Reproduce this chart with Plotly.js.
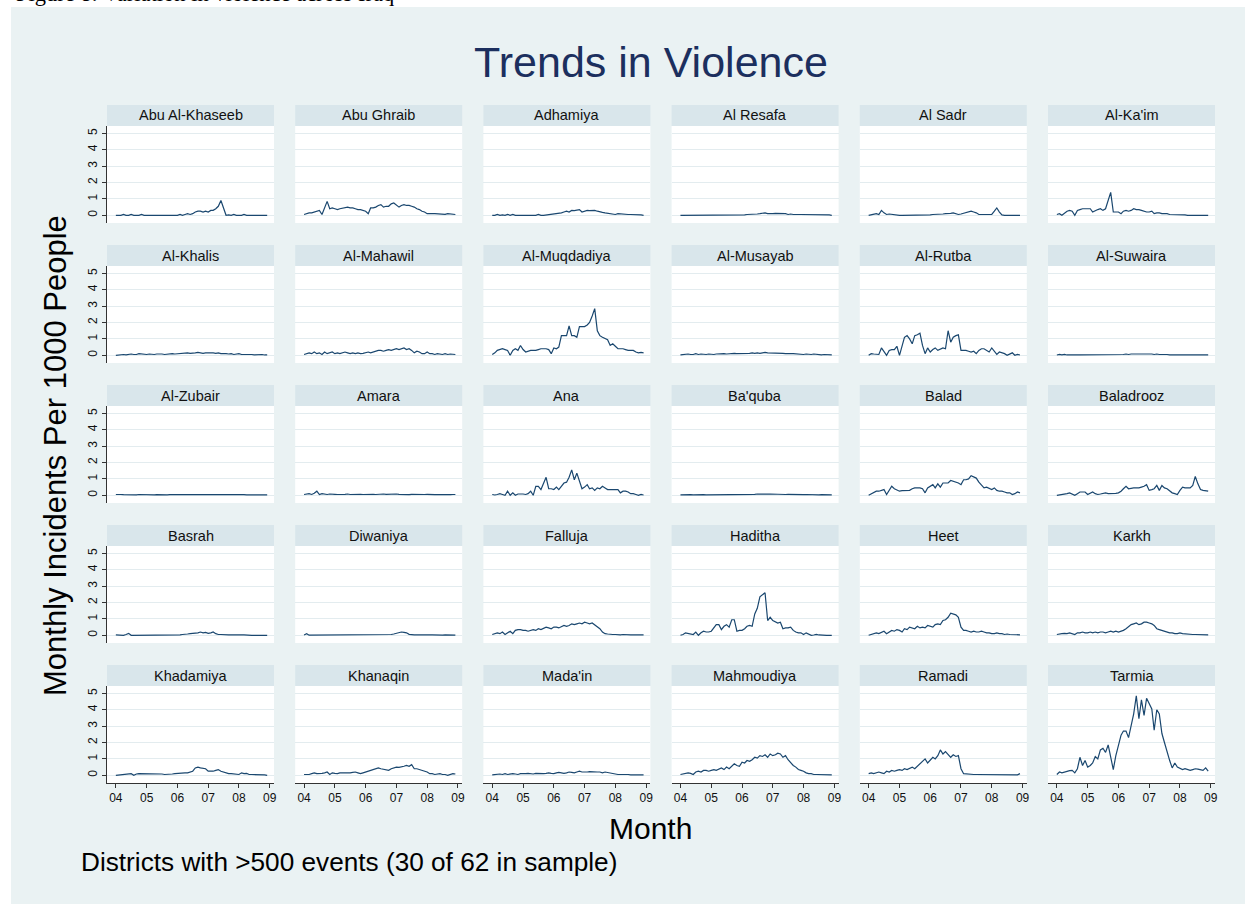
<!DOCTYPE html>
<html><head><meta charset="utf-8">
<script src="https://cdn.plot.ly/plotly-3.0.1.min.js"></script>
<style>html,body{margin:0;padding:0;background:#fff}#chart{width:1256px;height:914px}</style>
</head><body><div id="chart"></div>
<script>
const districts = ["Abu Al-Khaseeb","Abu Ghraib","Adhamiya","Al Resafa","Al Sadr","Al-Ka'im",
  "Al-Khalis","Al-Mahawil","Al-Muqdadiya","Al-Musayab","Al-Rutba","Al-Suwaira",
  "Al-Zubair","Amara","Ana","Ba'quba","Balad","Baladrooz",
  "Basrah","Diwaniya","Falluja","Haditha","Heet","Karkh",
  "Khadamiya","Khanaqin","Mada'in","Mahmoudiya","Ramadi","Tarmia"];

const abuAlKhaseeb = [0,0,0,0.05,0,0,0.05,0,0,0, 0.05,0,0,0,0,0,0,0,0,0, 0,0,0,0,0,0.05,0,0.05,0.1,0.05, 0.1,0.2,0.25,0.25,0.2,0.25,0.2,0.3,0.3,0.4, 0.55,0.9,0.45,0,0.02,0,0.05,0,0,0, 0.05,0,0,0,0,0,0,0,0,0];
const abuGhraib = [0.05,0.1,0.15,0.15,0.2,0.25,0.3,0.05,0.45,0.85, 0.4,0.45,0.4,0.35,0.4,0.45,0.45,0.5,0.45,0.45, 0.4,0.35,0.35,0.3,0.25,0.1,0.45,0.45,0.5,0.6, 0.65,0.5,0.55,0.55,0.7,0.75,0.65,0.5,0.6,0.65, 0.6,0.6,0.55,0.5,0.4,0.35,0.25,0.2,0.1,0.12, 0.1,0.1,0.08,0.08,0.05,0.06,0.1,0.08,0.1,0.05];
const adhamiya = [0,0,0.05,0,0.03,0,0.05,0,0.05,0, 0,0,0,0,0,0.03,0,0,0.05,0, 0,0.02,0.05,0.05,0.1,0.1,0.12,0.15,0.2,0.25, 0.2,0.3,0.28,0.3,0.35,0.2,0.25,0.3,0.28,0.28, 0.3,0.25,0.2,0.18,0.15,0.12,0.1,0.08,0.05,0.1, 0.08,0.08,0.05,0.05,0.05,0.05,0.05,0.03,0.02,0];
const alResafa = [0,0,0,0,0,0.03,0,0,0,0.03, 0,0,0,0,0,0,0,0,0,0, 0,0,0,0,0.03,0.03,0.05,0.05,0.05,0.08, 0.08,0.1,0.12,0.15,0.1,0.08,0.1,0.12,0.12,0.1, 0.08,0.1,0.05,0.08,0.05,0.03,0.05,0.05,0.05,0.05, 0.05,0.05,0.05,0.05,0.03,0.05,0.03,0.03,0.02,0];
const alSadr = [0,0.03,0.08,0.1,0.05,0.3,0.15,0.05,0.08,0.05, 0.05,0,0,0,0,0,0,0,0,0, 0,0,0,0,0.03,0.05,0.05,0.05,0.05,0.08, 0.1,0.1,0.12,0.15,0.12,0.05,0.08,0.12,0.15,0.2, 0.25,0.2,0.15,0.05,0.05,0.05,0.05,0.05,0.05,0.25, 0.45,0.2,0.02,0,0,0,0,0,0,0];
const alKaim = [0.05,0.1,0,0.15,0.25,0.3,0.25,0,0.3,0.35, 0.4,0.4,0.4,0.4,0.2,0.3,0.35,0.4,0.3,0.4, 0.9,1.4,0.2,0.2,0.2,0.1,0.25,0.3,0.25,0.3, 0.4,0.35,0.35,0.3,0.25,0.2,0.2,0.25,0.1,0.15, 0.15,0.1,0.1,0.1,0.05,0.05,0.05,0.03,0.05,0.02, 0.02,0,0,0,0,0,0,0,0,0];
const alKhalis = [0,0.02,0.05,0.05,0.03,0.05,0.08,0.05,0.05,0.1, 0.08,0.05,0.05,0.08,0.05,0.05,0.08,0.1,0.08,0.05, 0.08,0.1,0.1,0.08,0.1,0.12,0.1,0.12,0.15,0.12, 0.12,0.15,0.18,0.15,0.12,0.15,0.15,0.18,0.15,0.12, 0.15,0.1,0.12,0.1,0.08,0.1,0.05,0.08,0.1,0.05, 0.05,0.08,0.05,0.05,0.03,0.05,0.03,0.05,0.02,0.02];
const alMahawil = [0.05,0.1,0.15,0.1,0.2,0.1,0.15,0.05,0.2,0.1, 0.15,0.2,0.1,0.15,0.1,0.15,0.2,0.15,0.1,0.15, 0.1,0.15,0.1,0.12,0.15,0.2,0.15,0.2,0.25,0.3, 0.3,0.25,0.3,0.35,0.3,0.35,0.4,0.35,0.4,0.45, 0.35,0.4,0.3,0.15,0.25,0.2,0.1,0.1,0.2,0.1, 0.1,0.05,0.1,0.08,0.05,0.1,0.05,0.08,0.05,0.05];
const alMuqdadiya = [0.05,0.15,0.3,0.35,0.4,0.35,0.3,0,0.3,0.4, 0.3,0.6,0.35,0.2,0.25,0.3,0.3,0.3,0.35,0.4, 0.4,0.4,0.35,0.1,0.45,0.4,0.5,1.2,1.2,1.2, 1.8,1.2,1.2,1.1,1.75,1.75,1.75,1.85,2.0,2.4, 2.85,1.5,1.2,1.1,1.0,0.95,0.6,0.7,0.55,0.4, 0.4,0.4,0.35,0.3,0.3,0.3,0.2,0.15,0.18,0.15];
const alMusayab = [0.02,0.05,0.05,0.08,0.05,0.05,0.1,0.05,0.08,0.05, 0.05,0.08,0.05,0.05,0.08,0.1,0.08,0.1,0.08,0.1, 0.1,0.12,0.1,0.1,0.1,0.12,0.1,0.12,0.15,0.12, 0.15,0.12,0.15,0.18,0.15,0.15,0.12,0.15,0.15,0.12, 0.12,0.1,0.12,0.1,0.1,0.08,0.1,0.08,0.05,0.08, 0.05,0.05,0.08,0.05,0.05,0.03,0.05,0.03,0.02,0.02];
const alRutba = [0,0.1,0.08,0.05,0.05,0.45,0.25,0,0.3,0.35, 0.35,0.55,0,0.6,1.1,1.2,1.0,0.7,1.2,1.25, 1.35,0.6,0.1,0.45,0.2,0.35,0.45,0.3,0.4,0.45, 0.4,1.5,0.8,1.1,1.2,1.25,0.3,0.3,0.3,0.25, 0.2,0.25,0.1,0.3,0.4,0.4,0.3,0.2,0.45,0.25, 0.05,0.2,0.15,0.1,0,0.1,0.15,0,0.05,0.02];
const alSuwaira = [0.02,0.05,0.03,0.05,0.02,0.03,0.05,0.02,0.03,0.02, 0.02,0.03,0.02,0.02,0.03,0.02,0.02,0.03,0.02,0.03, 0.03,0.02,0.03,0.05,0.03,0.05,0.05,0.08,0.05,0.08, 0.08,0.1,0.08,0.1,0.12,0.08,0.1,0.08,0.05,0.08, 0.05,0.05,0.08,0.05,0.03,0.05,0.03,0.03,0.05,0.03, 0.03,0.02,0.03,0.02,0.02,0.02,0.03,0.02,0.02,0.02];
const alZubair = [0.05,0.03,0.05,0.04,0.03,0.05,0.03,0.04,0.03,0.05, 0.04,0.03,0.03,0.04,0.03,0.03,0.04,0.03,0.03,0.04, 0.03,0.04,0.04,0.05,0.04,0.05,0.05,0.06,0.05,0.06, 0.07,0.06,0.08,0.07,0.06,0.08,0.06,0.05,0.06,0.05, 0.05,0.06,0.04,0.05,0.04,0.05,0.04,0.04,0.05,0.04, 0.04,0.03,0.04,0.03,0.04,0.03,0.03,0.04,0.03,0.03];
const amara = [0.05,0.06,0.1,0.05,0.12,0.25,0.04,0.1,0.06,0.05, 0.08,0.05,0.06,0.05,0.07,0.05,0.06,0.08,0.05,0.06, 0.05,0.07,0.06,0.05,0.06,0.05,0.07,0.06,0.05,0.07, 0.06,0.08,0.06,0.07,0.05,0.06,0.08,0.06,0.05,0.06, 0.05,0.04,0.06,0.05,0.04,0.05,0.04,0.05,0.06,0.04, 0.05,0.04,0.05,0.04,0.05,0.04,0.05,0.04,0.05,0.05];
const ana = [0.05,0.02,0.05,0.1,0.05,0,0.25,0,0.15,0, 0.08,0.1,0.08,0.05,0.1,0.25,0,0.55,0.55,0.35, 0.7,1.1,0.4,0.4,0.35,0.5,0.35,0.55,0.75,0.8, 1.1,1.55,0.95,1.35,0.9,0.4,0.5,0.65,0.4,0.45, 0.3,0.45,0.4,0.55,0.45,0.35,0.35,0.35,0.35,0.35, 0.15,0.25,0.25,0.2,0.1,0.1,0.05,0,0.05,0.02];
const baquba = [0.03,0.04,0.03,0.03,0.04,0.03,0.04,0.03,0.03,0.04, 0.03,0.03,0.04,0.03,0.04,0.04,0.03,0.04,0.04,0.05, 0.04,0.05,0.05,0.04,0.05,0.06,0.05,0.06,0.07,0.06, 0.08,0.07,0.08,0.09,0.07,0.08,0.07,0.06,0.07,0.06, 0.06,0.05,0.06,0.05,0.05,0.04,0.05,0.04,0.04,0.05, 0.04,0.04,0.03,0.04,0.03,0.04,0.03,0.03,0.03,0.03];
const balad = [0,0.1,0.2,0.25,0.25,0.3,0.35,0.05,0.3,0.55, 0.4,0.35,0.25,0.28,0.3,0.3,0.3,0.4,0.45,0.45, 0.45,0.4,0.15,0.45,0.55,0.65,0.45,0.7,0.5,0.75, 0.75,0.75,0.9,0.85,0.8,0.75,0.65,0.95,0.95,1.0, 1.2,1.1,1.05,0.8,0.65,0.45,0.5,0.4,0.35,0.45, 0.3,0.25,0.25,0.2,0.15,0.15,0.05,0.1,0.2,0.15];
const baladrooz = [0,0.02,0.05,0.05,0.1,0.15,0.08,0,0.1,0.2, 0.2,0.2,0.05,0.12,0.2,0.1,0.05,0.08,0.1,0.15, 0.1,0.1,0.1,0.12,0.15,0.25,0.4,0.55,0.4,0.45, 0.45,0.45,0.45,0.5,0.55,0.65,0.3,0.35,0.4,0.6, 0.3,0.6,0.45,0.4,0.25,0.15,0.1,0.05,0.3,0.5, 0.45,0.45,0.45,0.6,1.15,0.7,0.35,0.3,0.28,0.25];
const basrah = [0.02,0,0.02,0,0.05,0.12,0,0,0.02,0, 0.01,0,0.01,0,0.01,0,0.01,0,0.01,0, 0,0,0.02,0.02,0.03,0.03,0.05,0.05,0.08,0.1, 0.12,0.1,0.15,0.2,0.15,0.18,0.12,0.15,0.2,0.1, 0.05,0.05,0.03,0.05,0.02,0.02,0.03,0.02,0.02,0.02, 0.02,0,0.02,0,0,0,0,0,0,0];
const diwaniya = [0.02,0.1,0.01,0.01,0.02,0.01,0.01,0.02,0.01,0.01, 0.01,0.01,0.02,0.01,0.01,0.01,0.02,0.01,0.01,0.01, 0.01,0.02,0.01,0.01,0.02,0.02,0.01,0.02,0.02,0.03, 0.02,0.03,0.03,0.04,0.05,0.08,0.12,0.2,0.2,0.18, 0.15,0.06,0.03,0.02,0.03,0.02,0.02,0.03,0.02,0.02, 0.02,0.01,0.02,0.01,0.01,0.02,0.01,0.01,0.01,0.01];
const falluja = [0.05,0.1,0.15,0.1,0.2,0.05,0.15,0.25,0.1,0.3, 0.35,0.35,0.3,0.3,0.25,0.3,0.35,0.3,0.4,0.35, 0.45,0.5,0.45,0.4,0.5,0.5,0.45,0.55,0.6,0.55, 0.6,0.7,0.65,0.7,0.75,0.7,0.8,0.75,0.7,0.75, 0.65,0.55,0.4,0.2,0.1,0.08,0.05,0.05,0.05,0.03, 0.03,0.05,0.03,0.02,0.03,0.02,0.02,0.03,0.02,0.02];
const haditha = [0,0.05,0.15,0.12,0.1,0.05,0.2,0,0.15,0.25, 0.2,0.2,0.25,0.5,0.65,0.65,0.35,0.55,0.65,0.5, 0.95,0.95,0.25,0.3,0.3,0.4,0.55,0.6,0.55,1.3, 1.65,2.35,2.5,2.6,0.9,1.1,0.9,0.8,0.75,0.8, 0.4,0.45,0.45,0.5,0.3,0.2,0.15,0.15,0.05,0.15, 0.1,0,0.02,0.05,0.02,0,0,0,0,0];
const heet = [0,0.05,0.1,0.15,0.1,0.2,0.25,0.1,0.2,0.3, 0.25,0.35,0.3,0.2,0.4,0.35,0.5,0.45,0.4,0.55, 0.45,0.5,0.45,0.6,0.55,0.5,0.65,0.7,0.65,0.9, 0.95,1.1,1.35,1.3,1.25,1.1,0.5,0.3,0.3,0.25, 0.2,0.25,0.2,0.2,0.25,0.2,0.15,0.15,0.1,0.1, 0.15,0.1,0.1,0.05,0.08,0.05,0.05,0.05,0.03,0.03];
const karkh = [0.05,0.1,0.1,0.12,0.1,0.15,0.1,0.05,0.15,0.15, 0.2,0.15,0.15,0.2,0.15,0.2,0.15,0.2,0.2,0.15, 0.2,0.25,0.2,0.25,0.2,0.25,0.3,0.4,0.55,0.65, 0.7,0.75,0.65,0.7,0.8,0.8,0.75,0.7,0.6,0.4, 0.35,0.3,0.25,0.2,0.15,0.15,0.1,0.1,0.15,0.1, 0.08,0.08,0.05,0.05,0.05,0.05,0.03,0.05,0.03,0.03];
const khadamiya = [0,0.02,0.05,0.05,0.1,0.08,0.1,0,0.08,0.1, 0.1,0.12,0.08,0.1,0.1,0.1,0.08,0.1,0.08,0.05, 0.05,0.08,0.08,0.1,0.12,0.12,0.12,0.15,0.15,0.2, 0.25,0.45,0.5,0.45,0.42,0.4,0.25,0.25,0.25,0.3, 0.35,0.25,0.2,0.15,0.1,0.1,0.08,0.05,0.05,0.15, 0.1,0.12,0.05,0.05,0.05,0.03,0.03,0.03,0.02,0];
const khanaqin = [0.05,0.05,0.05,0.1,0.15,0.1,0.1,0.12,0.15,0.2, 0.05,0.15,0.12,0.1,0.15,0.15,0.12,0.15,0.15,0.18, 0.2,0.15,0.1,0.15,0.2,0.25,0.3,0.35,0.4,0.45, 0.4,0.38,0.35,0.3,0.4,0.45,0.5,0.48,0.5,0.55, 0.6,0.55,0.65,0.4,0.4,0.35,0.3,0.25,0.2,0.1, 0.1,0.05,0.08,0.1,0.05,0.05,0,0.05,0.1,0.08];
const madain = [0.02,0.05,0.05,0.08,0.05,0.1,0.05,0.08,0.1,0.08, 0.05,0.1,0.08,0.1,0.12,0.1,0.08,0.12,0.1,0.12, 0.1,0.12,0.15,0.12,0.1,0.15,0.18,0.15,0.12,0.15, 0.2,0.18,0.15,0.2,0.25,0.2,0.18,0.2,0.22,0.2, 0.18,0.2,0.2,0.15,0.2,0.18,0.15,0.1,0.08,0.05, 0.05,0.08,0.05,0.05,0.03,0.05,0.03,0.03,0.02,0.02];
const mahmoudiya = [0.05,0.1,0.1,0.15,0.12,0.05,0.2,0.25,0.2,0.3, 0.3,0.25,0.3,0.35,0.3,0.4,0.45,0.35,0.5,0.4, 0.55,0.7,0.6,0.55,0.8,0.75,0.9,0.85,0.95,1.1, 1.05,1.2,1.15,1.25,1.1,1.3,1.2,1.25,1.35,1.3, 1.1,1.2,0.95,0.75,0.6,0.5,0.35,0.3,0.25,0.15, 0.1,0.1,0.05,0.05,0.05,0.03,0.03,0.05,0.02,0.02];
const ramadi = [0.1,0.15,0.1,0.15,0.2,0.15,0.1,0.25,0.2,0.3, 0.25,0.3,0.35,0.3,0.4,0.35,0.45,0.5,0.4,0.55, 0.7,0.9,1.0,0.75,0.95,1.1,1.0,1.2,1.55,1.3, 1.45,1.3,1.1,1.25,1.15,1.2,0.4,0.1,0.08,0.05, 0.05,0.05,0.05,0.05,0.03,0.05,0.05,0.03,0.05,0.03, 0.03,0.05,0.03,0.03,0.05,0.03,0.03,0.05,0.03,0.1];
const tarmia = [0.05,0.2,0.15,0.2,0.25,0.28,0.3,0.15,0.4,1.1, 0.6,0.9,0.5,0.6,0.75,1.15,1.0,1.55,1.65,1.4, 1.85,1.1,0.35,1.2,1.85,2.45,2.7,2.7,2.3,3.0, 3.75,4.85,3.45,4.6,3.65,4.7,4.4,4.05,2.75,4.0, 3.75,2.55,2.0,1.4,0.9,0.45,0.75,0.5,0.4,0.35, 0.4,0.35,0.3,0.35,0.4,0.38,0.35,0.3,0.45,0.25];

const seriesValues = [abuAlKhaseeb, abuGhraib, adhamiya, alResafa, alSadr, alKaim,
  alKhalis, alMahawil, alMuqdadiya, alMusayab, alRutba, alSuwaira,
  alZubair, amara, ana, baquba, balad, baladrooz,
  basrah, diwaniya, falluja, haditha, heet, karkh,
  khadamiya, khanaqin, madain, mahmoudiya, ramadi, tarmia];

const xTickVals = ['2004-01-01','2005-01-01','2006-01-01','2007-01-01','2008-01-01','2009-01-01'];
const xTickLabels = ['04','05','06','07','08','09'];
const yTickVals = [0,1,2,3,4,5];

const months = [];
for (let y = 2004; y <= 2008; y++) for (let m = 1; m <= 12; m++) months.push(y + '-' + String(m).padStart(2,'0') + '-01');

const W = 1256, H = 914;
const FONT = 'Liberation Sans, Arial, Helvetica, sans-serif';
const colX0 = 107, colW = 167, colPitch = 188.2;
const rowTop = 126, rowH = 97, rowPitch = 140, stripH = 21;

const traces = [];
const layout = {
  width: W, height: H,
  margin: {l:0, r:0, t:0, b:0, pad:0},
  paper_bgcolor: '#EAF2F3',
  plot_bgcolor: '#FFFFFF',
  showlegend: false,
  font: {family: FONT, color: '#000'},
  title: {text: 'Trends in Violence', font: {family: FONT, size: 43, color: '#1c2f5e'},
          xref: 'container', yref: 'container', x: 651/W, xanchor: 'center', y: 1 - 62/H, yanchor: 'middle'},
  shapes: [], annotations: []
};

seriesValues.forEach((vals, k) => {
  const r = Math.floor(k / 6), c = k % 6;
  const sfx = k === 0 ? '' : String(k + 1);
  const x0 = colX0 + colPitch * c, x1 = x0 + colW;
  const yt = rowTop + rowPitch * r, yb = yt + rowH;
  traces.push({type: 'scatter', mode: 'lines', x: months, y: vals, name: districts[k],
    xaxis: 'x' + sfx, yaxis: 'y' + sfx, line: {color: '#1a476f', width: 1.2}, hoverinfo: 'skip'});
  const bottom = r === 4, left = c === 0;
  layout['xaxis' + sfx] = {
    domain: [x0 / W, x1 / W], anchor: 'y' + sfx, type: 'date',
    range: ['2003-09-18', '2009-02-20'], tickvals: xTickVals, ticktext: xTickLabels,
    showgrid: false, zeroline: false,
    showticklabels: bottom, ticks: bottom ? 'outside' : '', ticklen: 4, tickcolor: '#333', tickwidth: 1,
    showline: bottom, linecolor: '#333', linewidth: 1,
    tickfont: {family: FONT, size: 12, color: '#111'}
  };
  layout['yaxis' + sfx] = {
    domain: [1 - yb / H, 1 - yt / H], anchor: 'x' + sfx,
    range: [-0.47, 5.45], tickvals: yTickVals, ticktext: yTickVals.map(String),
    showgrid: true, gridcolor: '#E3ECEF', gridwidth: 1, zeroline: false,
    showticklabels: left, ticks: left ? 'outside' : '', ticklen: 4, tickcolor: '#333', tickwidth: 1,
    showline: left, linecolor: '#333', linewidth: 1, tickangle: -90,
    tickfont: {family: FONT, size: 12, color: '#111'}
  };
  layout.shapes.push({type: 'rect', xref: 'paper', yref: 'paper', layer: 'below',
    x0: x0 / W, x1: x1 / W, y0: 1 - yt / H, y1: 1 - (yt - stripH) / H,
    fillcolor: '#D9E6EB', line: {width: 0}});
  layout.annotations.push({xref: 'paper', yref: 'paper', x: (x0 + x1) / 2 / W, y: 1 - (yt - stripH / 2) / H,
    xanchor: 'center', yanchor: 'middle', text: districts[k], showarrow: false,
    font: {family: FONT, size: 14.5, color: '#111'}});
});

// white frame outside the graph region
[[0, 0, W, 7], [0, 0, 11, H], [1245, 0, W, H], [0, 904, W, H]].forEach(b => {
  layout.shapes.push({type: 'rect', xref: 'paper', yref: 'paper', layer: 'above',
    x0: b[0] / W, x1: b[2] / W, y0: 1 - b[3] / H, y1: 1 - b[1] / H, fillcolor: '#FFFFFF', line: {width: 0}});
});

layout.annotations.push(
  {xref: 'paper', yref: 'paper', x: 14 / W, y: 1 - 8 / H, xanchor: 'left', yanchor: 'bottom',
   text: 'Figure 8: Variation in violence across Iraq', showarrow: false,
   font: {family: 'Liberation Serif, Times New Roman, serif', size: 22.5, color: '#000'}},
  {xref: 'paper', yref: 'paper', x: 55 / W, y: 1 - 456 / H, xanchor: 'center', yanchor: 'middle',
   text: 'Monthly Incidents Per 1000 People', textangle: -90, showarrow: false,
   font: {family: FONT, size: 31, color: '#000'}},
  {xref: 'paper', yref: 'paper', x: 650 / W, y: 1 - 828 / H, xanchor: 'center', yanchor: 'middle',
   text: 'Month', showarrow: false, font: {family: FONT, size: 30, color: '#000'}},
  {xref: 'paper', yref: 'paper', x: 79 / W, y: 1 - 862 / H, xanchor: 'left', yanchor: 'middle',
   text: 'Districts with >500 events (30 of 62 in sample)', showarrow: false,
   font: {family: FONT, size: 26.2, color: '#000'}}
);

Plotly.newPlot('chart', traces, layout, {staticPlot: true, displayModeBar: false});
</script></body></html>
